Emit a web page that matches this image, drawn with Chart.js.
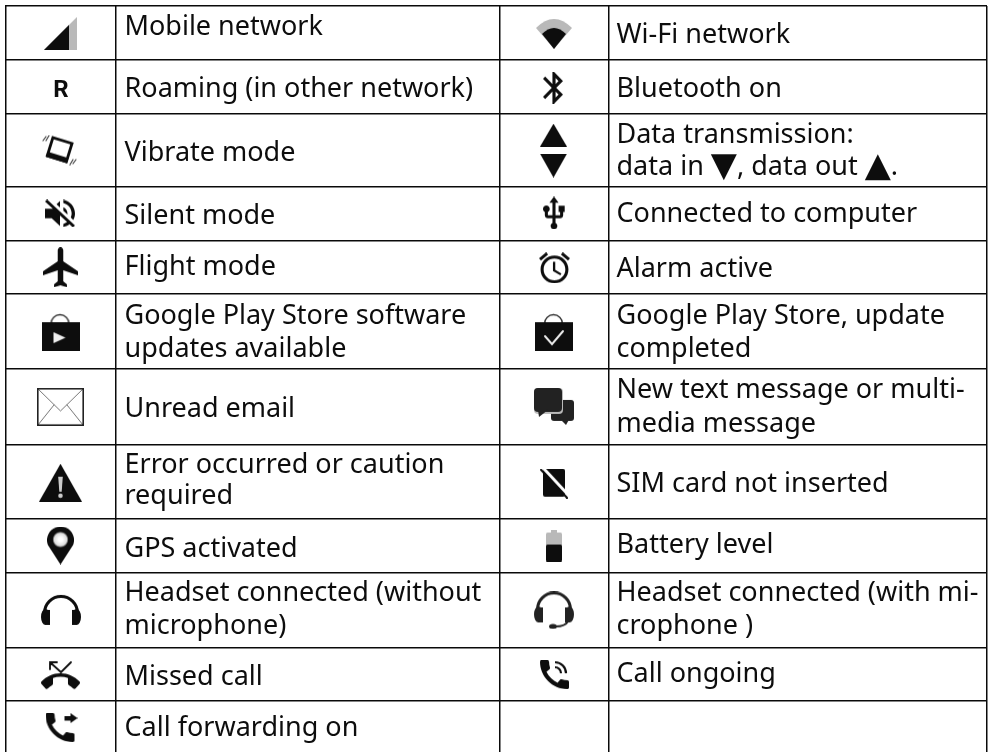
<!DOCTYPE html>
<html>
<head>
<meta charset="utf-8">
<style>
  html, body { margin: 0; padding: 0; background: #fff; overflow: hidden; }
  canvas { display: block; }
</style>
</head>
<body>
<canvas id="tabela" width="992" height="754"></canvas>
<script src="https://cdn.jsdelivr.net/npm/chart.js@4"></script>
<script>
// table rules
const colEdges = [5.5, 116, 499.5, 608.5, 987];
const rowEdges = [6, 60, 114, 187, 241, 295, 370, 446, 520, 574, 649, 703];

// text, one entry per printed line
const leftLines = ['Mobile network', 'Roaming (in other network)', 'Vibrate mode', 'Silent mode', 'Flight mode',
  'Google Play Store software', 'updates available', 'Unread email', 'Error occurred or caution', 'required',
  'GPS activated', 'Headset connected (without', 'microphone)', 'Missed call', 'Call forwarding on'];
const leftBaselines = [35.5, 97.5, 161.5, 224.5, 275.5, 324.5, 357.5, 418.5, 474.5, 505.5, 558.5, 602.5, 635.5, 686.5, 737.5];
const rightLines = ['Wi-Fi network', 'Bluetooth on', 'Data transmission:', 'data in ▼, data out ▲.', 'Connected to computer',
  'Alarm active', 'Google Play Store, update', 'completed', 'New text message or multi-', 'media message',
  'SIM card not inserted', 'Battery level', 'Headset connected (with mi-', 'crophone )', 'Call ongoing'];
const rightBaselines = [43.5, 97.5, 143.5, 175.5, 222.5, 277.5, 324.5, 357.5, 399.5, 433.5, 493.5, 554.5, 602.5, 635.5, 683.5];
const leftTextX = 124.5;
const rightTextX = 616.5;

// icons, placed by their centre
const iconNames = ['signal', 'vibrate', 'silent', 'plane', 'bagPlay', 'envelope', 'warning', 'pin', 'headphones', 'missed', 'forward',
  'wifi', 'bluetooth', 'up', 'down', 'usb', 'alarm', 'bagCheck', 'chat', 'sim', 'battery', 'headsetMic', 'ongoing'];
const iconX = [60.5, 59.5, 60, 60.5, 60.5, 60.5, 60.5, 60.5, 61, 60.5, 61.5,
  554, 553, 553.5, 553.5, 554, 554.5, 554, 554, 554, 554, 554, 554.5];
const iconY = [33.5, 150.5, 214, 268, 333, 408, 484, 547, 611.5, 677, 729.5,
  34, 88, 135.5, 166, 213.5, 268.5, 333, 407.5, 485, 547, 612, 676.5];

const ink = '#0d0d0d';
const grey = '#b9b9b9';
const textFont = '27px "Noto Sans"';

const phone = 'M20.01 15.38c-1.23 0-2.42-.2-3.53-.56-.35-.12-.74-.03-1.01.24l-1.57 1.97c-2.83-1.35-5.48-3.9-6.89-6.83l1.95-1.66c.27-.28.35-.67.24-1.02-.37-1.11-.56-2.3-.56-3.53 0-.54-.45-.99-.99-.99H4.19C3.65 3 3 3.24 3 3.99 3 13.28 10.73 21 20.01 21c.71 0 .99-.63.99-1.18v-3.45c0-.54-.45-.99-.99-.99z';
const hangup = 'M12 9c-1.6 0-3.15.25-4.6.72v3.1c0 .39-.23.74-.56.9-.98.49-1.87 1.12-2.66 1.85-.18.18-.43.28-.7.28-.28 0-.53-.11-.71-.29L.29 13.08c-.18-.17-.29-.42-.29-.7 0-.28.11-.53.29-.71C3.34 8.78 7.46 7 12 7s8.66 1.78 11.71 4.67c.18.18.29.43.29.71 0 .28-.11.53-.29.71l-2.48 2.48c-.18.18-.43.29-.71.29-.27 0-.52-.11-.7-.28-.79-.74-1.69-1.36-2.67-1.85-.33-.16-.56-.5-.56-.9v-3.1C15.15 9.25 13.6 9 12 9z';
const btPath = 'M17.71 7.71L12 2h-1v7.59L6.41 5 5 6.41 10.59 12 5 17.59 6.41 19 11 14.41V22h1l5.71-5.71-4.3-4.29 4.3-4.29zM13 5.83l1.88 1.88L13 9.59V5.83zm1.88 10.46L13 18.17v-3.76l1.88 1.88z';
const usbPath = 'M15 7v4h1v2h-3V5h2l-3-4-3 4h2v8H8v-2.07c.7-.37 1.2-1.08 1.2-1.93 0-1.21-.99-2.2-2.2-2.2-1.21 0-2.2.99-2.2 2.2 0 .85.5 1.56 1.2 1.93V13c0 1.11.89 2 2 2h3v3.05c-.71.37-1.2 1.1-1.2 1.95 0 1.22.99 2.2 2.2 2.2 1.21 0 2.2-.98 2.2-2.2 0-.85-.49-1.58-1.2-1.95V15h3c1.11 0 2-.89 2-2v-2h1V7h-4z';
const alarmPath = 'M22 5.72l-4.6-3.86-1.29 1.53 4.6 3.86L22 5.72zM7.88 3.39L6.6 1.86 2 5.71l1.29 1.53 4.59-3.85zM12.5 8H11v6l4.75 2.85.75-1.23-4-2.37V8zM12 4c-4.97 0-9 4.03-9 9s4.02 9 9 9c4.97 0 9-4.03 9-9s-4.03-9-9-9zm0 16c-3.87 0-7-3.13-7-7s3.13-7 7-7 7 3.13 7 7-3.13 7-7 7z';
const mutePath = 'M16.5 12c0-1.77-1.02-3.29-2.5-4.03v2.21l2.45 2.45c.03-.2.05-.41.05-.63zm2.5 0c0 .94-.2 1.82-.54 2.64l1.51 1.51C20.63 14.91 21 13.5 21 12c0-4.28-2.99-7.86-7-8.77v2.06c2.89.86 5 3.54 5 6.71zM4.27 3L3 4.27 7.73 9H3v6h4l5 5v-6.73l4.25 4.25c-.67.52-1.42.93-2.25 1.18v2.06c1.38-.31 2.63-.95 3.69-1.81L19.73 21 21 19.73l-9-9L4.27 3zM12 4L9.91 6.09 12 8.18V4z';
const planePath = 'M21 16v-2l-8-5V3.5c0-.83-.67-1.5-1.5-1.5S10 2.67 10 3.5V9l-8 5v2l8-2.5V19l-2 1.5V22l3.5-1 3.5 1v-1.5L13 19v-5.5l8 2.5z';

function makeIcon(w, h, draw) {
  const c = document.createElement('canvas');
  c.width = w;
  c.height = h;
  const g = c.getContext('2d');
  g.fillStyle = ink;
  g.strokeStyle = ink;
  g.lineCap = 'round';
  draw(g);
  return c;
}

// fit a 24 unit svg path into the box
function fitPath(g, d, vb, x, y, w, h) {
  g.save();
  g.translate(x, y);
  g.scale(w / vb[2], h / vb[3]);
  g.translate(-vb[0], -vb[1]);
  g.fill(new Path2D(d));
  g.restore();
}

function poly(g, pts) {
  g.beginPath();
  pts.forEach((p, i) => (i ? g.lineTo(p[0], p[1]) : g.moveTo(p[0], p[1])));
  g.closePath();
  g.fill();
}

function bag(g) {
  g.lineWidth = 1.4;
  g.strokeStyle = '#333';
  g.beginPath();
  g.arc(18.5, 10.5, 9, Math.PI, 0);
  g.lineTo(27.5, 12);
  g.moveTo(9.5, 10.5);
  g.lineTo(9.5, 12);
  g.stroke();
  g.fillRect(0, 9, 38, 29);
}

const icons = {
  signal: makeIcon(33, 33, g => {
    g.fillStyle = grey;
    poly(g, [[0, 33], [33, 0], [33, 33]]);
    g.fillStyle = ink;
    poly(g, [[0, 33], [25, 8], [25, 33]]);
  }),
  vibrate: makeIcon(35, 31, g => {
    g.lineWidth = 1.2;
    g.strokeStyle = '#444';
    [[1, 6, 4, 2], [4, 6, 7, 1], [34, 25, 31, 29], [31, 25, 28, 30]].forEach(l => {
      g.beginPath();
      g.moveTo(l[0], l[1]);
      g.lineTo(l[2], l[3]);
      g.stroke();
    });
    g.translate(17.5, 15.5);
    g.rotate(0.3);
    g.strokeStyle = ink;
    g.lineWidth = 2.8;
    g.strokeRect(-10, -10, 20, 19);
    g.fillRect(-11, 5, 22, 5.5);
  }),
  silent: makeIcon(30, 28, g => fitPath(g, mutePath, [3, 3, 18, 18], 0, 0, 30, 28)),
  plane: makeIcon(35, 40, g => fitPath(g, planePath, [2, 2, 19, 20], 0, 0, 35, 40)),
  bagPlay: makeIcon(38, 38, g => {
    bag(g);
    g.fillStyle = '#eee';
    poly(g, [[12, 19], [24, 24.5], [12, 30]]);
  }),
  envelope: makeIcon(47, 38, g => {
    g.fillStyle = '#fff';
    g.fillRect(0, 0, 47, 38);
    g.lineWidth = 1;
    g.strokeStyle = '#777';
    g.beginPath();
    g.moveTo(1, 1);
    g.lineTo(23.5, 23);
    g.lineTo(46, 1);
    g.moveTo(1, 37);
    g.lineTo(17, 17);
    g.moveTo(46, 37);
    g.lineTo(30, 17);
    g.stroke();
    g.lineWidth = 1.6;
    g.strokeStyle = '#222';
    g.strokeRect(0.8, 0.8, 45.4, 36.4);
  }),
  warning: makeIcon(43, 38, g => {
    poly(g, [[21.5, 0], [43, 38], [0, 38]]);
    g.fillStyle = '#ccc';
    poly(g, [[19.2, 13], [23.8, 13], [22.7, 28], [20.3, 28]]);
    g.beginPath();
    g.arc(21.5, 32, 2.3, 0, 7);
    g.fill();
  }),
  pin: makeIcon(27, 38, g => {
    g.beginPath();
    g.arc(13.5, 13.5, 13.5, Math.PI * 0.88, Math.PI * 0.12);
    g.lineTo(13.5, 38);
    g.closePath();
    g.fill();
    const glow = g.createRadialGradient(13.5, 13, 2, 13.5, 13, 8);
    glow.addColorStop(0, '#fff');
    glow.addColorStop(0.7, '#ddd');
    glow.addColorStop(1, '#222');
    g.fillStyle = glow;
    g.beginPath();
    g.arc(13.5, 13, 8, 0, 7);
    g.fill();
  }),
  headphones: makeIcon(40, 32, g => {
    g.lineWidth = 3;
    g.beginPath();
    g.arc(20, 19, 16.5, Math.PI, 0);
    g.stroke();
    g.beginPath();
    g.ellipse(4.5, 23, 4.5, 8, 0, 0, 7);
    g.ellipse(35.5, 23, 4.5, 8, 0, 0, 7);
    g.fill();
    g.fillRect(4, 16, 5, 15);
    g.fillRect(31, 16, 5, 15);
  }),
  missed: makeIcon(39, 30, g => {
    fitPath(g, hangup, [0, 7, 24, 9.6], 0, 13, 39, 17);
    g.lineWidth = 1.8;
    g.beginPath();
    g.moveTo(9, 9);
    g.lineTo(9, 2);
    g.lineTo(16, 2);
    g.moveTo(9, 2);
    g.lineTo(20, 12);
    g.lineTo(30, 2);
    g.stroke();
  }),
  forward: makeIcon(32, 29, g => {
    fitPath(g, phone, [3, 3, 18, 18], 0, 0, 29, 29);
    g.fillRect(19, 3, 7, 4.5);
    poly(g, [[25, 0], [32, 5], [25, 10]]);
  }),
  wifi: makeIcon(36, 30, g => {
    g.fillStyle = grey;
    g.beginPath();
    g.moveTo(18, 30);
    g.lineTo(0, 9);
    g.quadraticCurveTo(18, -9, 36, 9);
    g.closePath();
    g.fill();
    g.fillStyle = ink;
    g.beginPath();
    g.moveTo(18, 30);
    g.lineTo(6, 15);
    g.quadraticCurveTo(18, 3, 30, 15);
    g.closePath();
    g.fill();
  }),
  bluetooth: makeIcon(20, 32, g => fitPath(g, btPath, [5, 2, 12.71, 20], 0, 0, 20, 32)),
  up: makeIcon(27, 23, g => poly(g, [[13.5, 0], [27, 23], [0, 23]])),
  down: makeIcon(27, 24, g => poly(g, [[0, 0], [27, 0], [13.5, 24]])),
  usb: makeIcon(22, 33, g => fitPath(g, usbPath, [4.8, 1, 14.4, 21.2], 0, 0, 22, 33)),
  alarm: makeIcon(31, 31, g => fitPath(g, alarmPath, [2, 1.86, 20, 20.14], 0, 0, 31, 31)),
  bagCheck: makeIcon(38, 38, g => {
    bag(g);
    g.strokeStyle = '#eee';
    g.lineWidth = 2;
    g.beginPath();
    g.moveTo(10, 23);
    g.lineTo(17, 31);
    g.lineTo(28, 18);
    g.stroke();
  }),
  chat: makeIcon(40, 37, g => {
    g.fillStyle = '#222';
    g.beginPath();
    g.roundRect(17, 12, 23, 21, 3);
    g.fill();
    poly(g, [[25, 30], [36, 30], [32, 37]]);
    g.fillStyle = '#bbb';
    g.beginPath();
    g.roundRect(0, 0, 29, 26, 4);
    g.fill();
    g.fillStyle = '#222';
    g.beginPath();
    g.roundRect(0, 0, 28, 24, 4);
    g.fill();
    poly(g, [[4, 22], [14, 22], [5, 29]]);
  }),
  sim: makeIcon(28, 30, g => {
    g.beginPath();
    g.roundRect(3, 0, 22, 28, 2);
    g.fill();
    g.strokeStyle = '#fff';
    g.lineWidth = 3;
    g.beginPath();
    g.moveTo(3, -1);
    g.lineTo(29, 27);
    g.stroke();
    g.strokeStyle = ink;
    g.lineWidth = 2;
    g.beginPath();
    g.moveTo(1, 1);
    g.lineTo(27, 29);
    g.stroke();
  }),
  battery: makeIcon(16, 32, g => {
    g.fillStyle = grey;
    g.fillRect(5, 0, 6, 4);
    g.beginPath();
    g.roundRect(0, 3, 16, 29, 1.5);
    g.fill();
    g.fillStyle = ink;
    g.beginPath();
    g.roundRect(0, 15, 16, 17, 1.5);
    g.fill();
  }),
  headsetMic: makeIcon(40, 38, g => {
    g.fillStyle = '#222';
    g.strokeStyle = '#222';
    g.lineWidth = 3;
    g.beginPath();
    g.arc(20, 18, 16.5, Math.PI, 0);
    g.stroke();
    g.beginPath();
    g.ellipse(4.5, 23, 4.5, 8, 0, 0, 7);
    g.ellipse(35.5, 23, 4.5, 8, 0, 0, 7);
    g.fill();
    g.fillRect(4, 16, 5, 15);
    g.fillRect(31, 16, 5, 15);
    g.lineWidth = 2;
    g.beginPath();
    g.moveTo(34, 30);
    g.quadraticCurveTo(31, 35, 22, 35);
    g.stroke();
    g.beginPath();
    g.ellipse(19, 35, 4, 2.5, 0, 0, 7);
    g.fill();
  }),
  ongoing: makeIcon(29, 29, g => {
    fitPath(g, phone, [3, 3, 18, 18], 0, 0, 29, 29);
    g.lineWidth = 2.2;
    g.lineCap = 'butt';
    g.beginPath();
    g.arc(15, 13, 6, -Math.PI / 2, 0);
    g.stroke();
    g.beginPath();
    g.arc(15, 13, 11, -Math.PI / 2, 0);
    g.stroke();
  })
};

// draws lines of text at scale positions, the triangles come out bigger
const tableText = {
  id: 'tableText',
  afterDatasetsDraw(chart) {
    const ctx = chart.ctx;
    const x = chart.scales.x;
    const y = chart.scales.y;
    ctx.save();
    ctx.fillStyle = ink;
    ctx.textBaseline = 'alphabetic';

    function drawLine(text, xVal, yVal) {
      let px = x.getPixelForValue(xVal);
      const py = y.getPixelForValue(yVal);
      text.split(/([▼▲])/).forEach(part => {
        if (!part) return;
        const tri = part === '▼' || part === '▲';
        ctx.font = tri ? '34px "DejaVu Sans"' : textFont;
        ctx.fillText(part, px, py + (tri ? 1 : 0));
        px += ctx.measureText(part).width;
      });
    }

    leftLines.forEach((t, i) => drawLine(t, leftTextX, leftBaselines[i]));
    rightLines.forEach((t, i) => drawLine(t, rightTextX, rightBaselines[i]));

    ctx.font = 'bold 24px Roboto';
    ctx.textAlign = 'center';
    ctx.fillText('R', x.getPixelForValue(61), y.getPixelForValue(97));
    ctx.restore();
  }
};

new Chart(document.getElementById('tabela'), {
  type: 'scatter',
  data: {
    datasets: [{
      data: iconNames.map((n, i) => ({ x: iconX[i], y: iconY[i] })),
      pointStyle: iconNames.map(n => icons[n]),
      pointRadius: 1,
      pointHoverRadius: 1,
      clip: false
    }]
  },
  options: {
    responsive: false,
    animation: false,
    events: [],
    layout: { padding: { left: 5, right: 5, top: 6, bottom: 0 } },
    plugins: { legend: { display: false }, tooltip: { enabled: false } },
    scales: {
      x: {
        type: 'linear',
        min: 5,
        max: 987,
        afterBuildTicks: axis => { axis.ticks = colEdges.map(v => ({ value: v })); },
        ticks: { display: false, autoSkip: false },
        border: { display: false },
        grid: { color: '#0a0a0a', lineWidth: 1.5, drawTicks: false }
      },
      y: {
        type: 'linear',
        reverse: true,
        min: 6,
        max: 754,
        afterBuildTicks: axis => { axis.ticks = rowEdges.map(v => ({ value: v })); },
        ticks: { display: false, autoSkip: false },
        border: { display: false },
        grid: { color: '#0a0a0a', lineWidth: 1.5, drawTicks: false }
      }
    }
  },
  plugins: [tableText]
});
</script>
</body>
</html>
